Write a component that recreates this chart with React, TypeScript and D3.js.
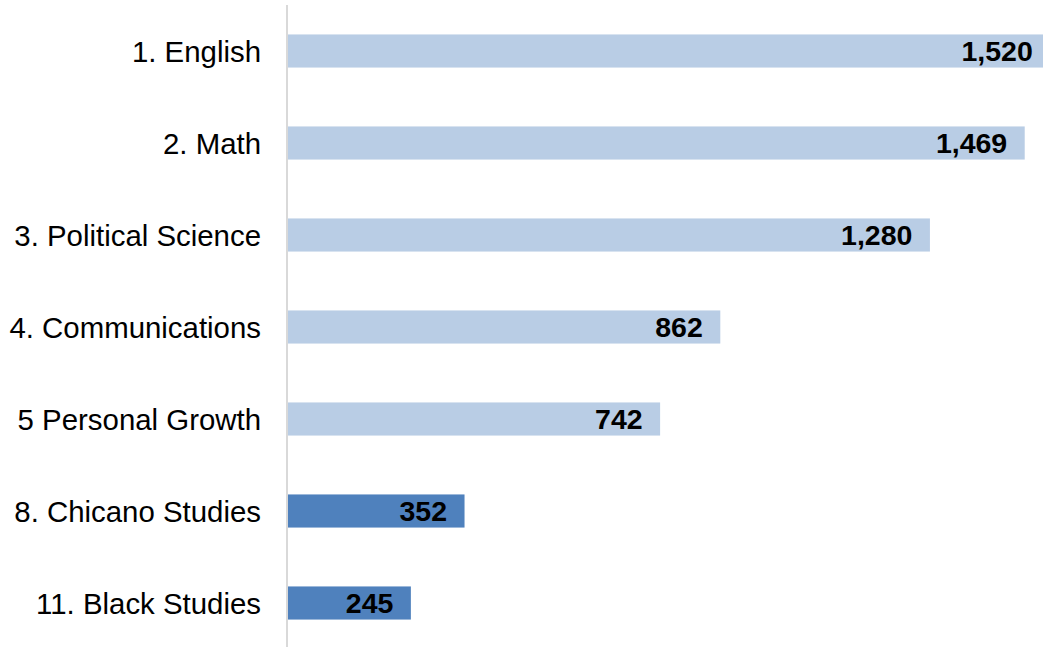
import React from "react";
import * as d3 from "d3";

const categories = [
  "1. English",
  "2. Math",
  "3. Political Science",
  "4. Communications",
  "5 Personal Growth",
  "8. Chicano Studies",
  "11. Black Studies",
];
const values = [1520, 1469, 1280, 862, 742, 352, 245];
const highlighted = [false, false, false, false, false, true, true];

const W = 1043;
const H = 647;

export default function App() {
  const x = d3.scaleLinear().domain([0, 1520]).range([288, 288 + 1520 * 0.5015]);
  const y = d3
    .scaleBand<string>()
    .domain(categories)
    .range([5, 649])
    .paddingInner(0.64)
    .paddingOuter(0.32);
  const fmt = d3.format(",");
  const font = "'Liberation Sans', Arial, sans-serif";

  return (
    <svg
      width={W}
      height={H}
      style={{ position: "absolute", left: 0, top: 0, background: "#fff" }}
    >
      {categories.map((c, i) => {
        const y0 = y(c)!;
        const bh = y.bandwidth();
        const cy = y0 + bh / 2;
        const x1 = x(values[i]);
        return (
          <g key={c}>
            <rect
              x={x(0)}
              y={y0}
              width={x1 - x(0)}
              height={bh}
              fill={highlighted[i] ? "#4F81BD" : "#B9CDE5"}
            />
            <text
              x={x1 - 17.5}
              y={cy}
              dy="0.36em"
              textAnchor="end"
              fontFamily={font}
              fontWeight="bold"
              fontSize={28.5}
              fill="#000"
            >
              {fmt(values[i])}
            </text>
            <text
              x={261}
              y={cy}
              dy="0.36em"
              textAnchor="end"
              fontFamily={font}
              fontSize={29.4}
              fill="#000"
            >
              {c}
            </text>
          </g>
        );
      })}
      <line x1={287} x2={287} y1={5} y2={H} stroke="#D9D9D9" strokeWidth={2} />
    </svg>
  );
}
